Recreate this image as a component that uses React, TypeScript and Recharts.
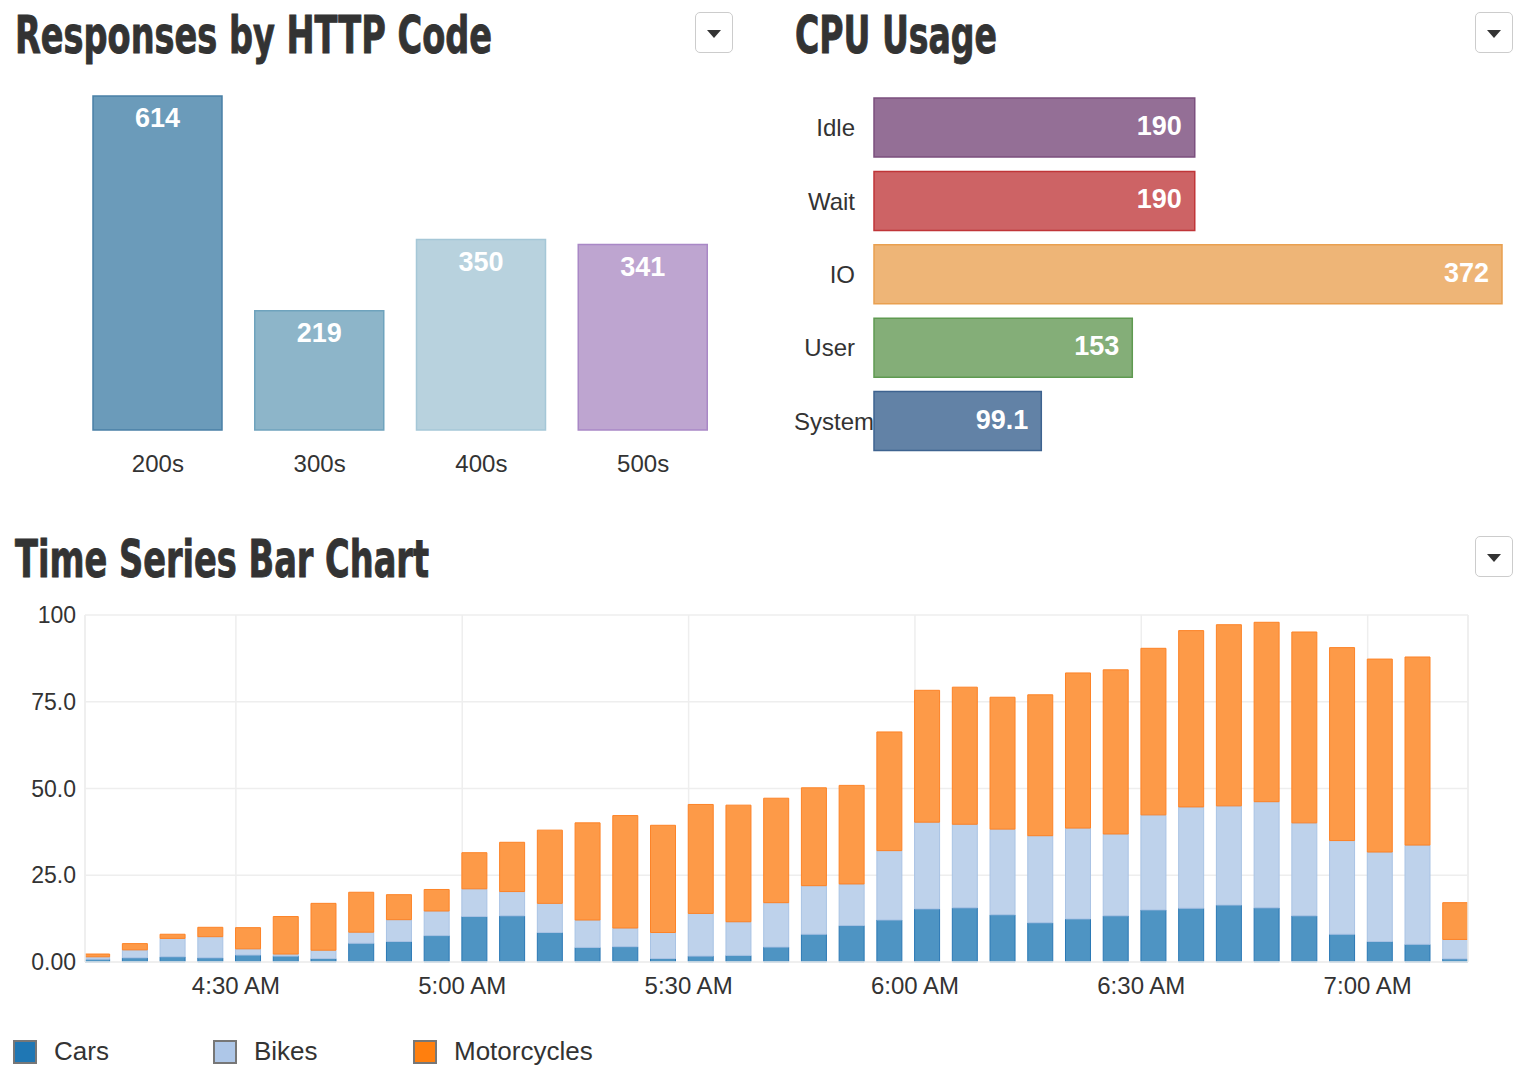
import {
  Bar,
  BarChart,
  CartesianGrid,
  Cell,
  LabelList,
  Rectangle,
  ReferenceLine,
  XAxis,
  YAxis,
} from 'recharts';

// Responses by HTTP Code
const codes = ['200s', '300s', '400s', '500s'];
const responses = [614, 219, 350, 341];
const codeFills = ['#6b9bba', '#8db5c9', '#b8d2de', '#bea5d0'];
const codeStrokes = ['#4a80a6', '#6fa3bd', '#a5c7d7', '#a988c6'];

// CPU Usage
const cpuStates = ['Idle', 'Wait', 'IO', 'User', 'System'];
const cpuValues = [190, 190, 372, 153, 99.1];
const cpuFills = ['#946f96', '#cd6365', '#eeb577', '#84ae78', '#6282a6'];
const cpuStrokes = ['#7b4f7e', '#c03538', '#e9a050', '#5f9a51', '#3e6390'];

// Time Series Bar Chart
const times = [
  '4:10', '4:15', '4:20', '4:25', '4:30', '4:35', '4:40', '4:45', '4:50', '4:55',
  '5:00', '5:05', '5:10', '5:15', '5:20', '5:25', '5:30', '5:35', '5:40', '5:45',
  '5:50', '5:55', '6:00', '6:05', '6:10', '6:15', '6:20', '6:25', '6:30', '6:35',
  '6:40', '6:45', '6:50', '6:55', '7:00', '7:05', '7:10',
];
const cars = [
  0.8, 1.2, 1.5, 1.2, 2.0, 1.7, 1.0, 5.4, 5.9, 7.6, 13.1, 13.3, 8.5, 4.2, 4.4, 1.0, 1.7, 1.9, 4.3,
  8.0, 10.5, 12.1, 15.3, 15.6, 13.6, 11.3, 12.4, 13.3, 15.0, 15.5, 16.4, 15.6, 13.3, 8.0, 5.9, 5.1, 0.9,
];
const bikes = [
  0.7, 2.3, 5.3, 6.1, 1.8, 0.6, 2.4, 3.2, 6.3, 7.1, 8.0, 7.0, 8.4, 7.9, 5.4, 7.5, 12.3, 9.7, 12.8,
  14.0, 12.0, 20.0, 25.0, 24.1, 24.7, 25.1, 26.2, 23.6, 27.4, 29.2, 28.6, 30.6, 26.8, 27.0, 25.8, 28.6, 5.6,
];
const motorcycles = [
  0.8, 1.8, 1.2, 2.7, 6.1, 10.8, 13.5, 11.5, 7.2, 6.2, 10.4, 14.2, 21.1, 28.0, 32.4, 30.9, 31.4, 33.6,
  30.1, 28.2, 28.4, 34.2, 38.0, 39.5, 38.0, 40.6, 44.7, 47.3, 48.0, 50.8, 52.2, 51.7, 55.0, 55.6, 55.6,
  54.2, 10.6,
];
const timeTicks = ['4:30', '5:00', '5:30', '6:00', '6:30', '7:00'];
const yTicks = [0, 25, 50, 75, 100];

const toMinutes = (t: string) => {
  const [h, m] = t.split(':').map(Number);
  return h * 60 + m;
};
const fmtTime = (v: number) => `${Math.floor(v / 60)}:${String(v % 60).padStart(2, '0')} AM`;

const T_MIN = toMinutes(times[0]);
const T_MAX = T_MIN + 183.3;

const httpData = codes.map((code, i) => ({ code, value: responses[i] }));
const cpuData = cpuStates.map((name, i) => ({ name, value: cpuValues[i] }));
const seriesData = times.map((t, i) => ({
  t: toMinutes(t),
  cars: cars[i],
  bikes: bikes[i],
  motorcycles: motorcycles[i],
}));

const legendItems = [
  { name: 'Cars', color: '#1f77b4' },
  { name: 'Bikes', color: '#aec7e8' },
  { name: 'Motorcycles', color: '#ff7f0e' },
];

const FONT = '"Liberation Sans", Arial, Helvetica, sans-serif';
const TEXT = '#333';
const GRID = '#eeeeee';

// time bars start at their timestamp, like a d3 time-scale bar
const ShiftedBar = (props: any) => <Rectangle {...props} x={props.x + props.width / 2} />;

const Title = ({ x, y, text, width }: { x: number; y: number; text: string; width: number }) => (
  <svg style={{ position: 'absolute', left: 0, top: y - 50, overflow: 'visible' }} width={1} height={70}>
    <text
      x={x}
      y={50}
      textLength={width}
      lengthAdjust="spacingAndGlyphs"
      fontFamily='"Liberation Sans Narrow", "DejaVu Sans Condensed", sans-serif'
      fontWeight="bold"
      fontSize={52}
      fill={TEXT}
      stroke={TEXT}
      strokeWidth={0.9}
    >
      {text}
    </text>
  </svg>
);

const MenuButton = ({ left, top }: { left: number; top: number }) => (
  <div
    style={{
      position: 'absolute',
      left,
      top,
      width: 36,
      height: 39,
      border: '1px solid #cccccc',
      borderRadius: 5,
      background: '#fff',
    }}
  >
    <div
      style={{
        position: 'absolute',
        left: 11,
        top: 17,
        width: 0,
        height: 0,
        borderLeft: '7px solid transparent',
        borderRight: '7px solid transparent',
        borderTop: '8px solid #333',
      }}
    />
  </div>
);

const CpuTick = ({ x, y, payload }: any) => {
  const label = String(payload.value);
  const est = label.length * 24 * 0.56;
  const leftBound = x - 61;
  const fits = x - est >= leftBound;
  return (
    <text
      x={fits ? x : leftBound}
      y={y}
      dy="0.355em"
      textAnchor={fits ? 'end' : 'start'}
      fill={TEXT}
      fontSize={24}
      fontFamily={FONT}
    >
      {label}
    </text>
  );
};

export default function App() {
  return (
    <div
      style={{
        position: 'absolute',
        left: 0,
        top: 0,
        width: 1526,
        height: 1082,
        overflow: 'hidden',
        background: '#fff',
        fontFamily: FONT,
        color: TEXT,
      }}
    >
      <Title x={15} y={53} text="Responses by HTTP Code" width={477} />
      <Title x={795} y={53} text="CPU Usage" width={202} />
      <Title x={15} y={577} text="Time Series Bar Chart" width={414} />
      <MenuButton left={695} top={12} />
      <MenuButton left={1475} top={12} />
      <MenuButton left={1475} top={536} />

      <div style={{ position: 'absolute', left: 0, top: 0 }}>
        <BarChart width={760} height={490} data={httpData} margin={{ top: 96, right: 36, bottom: 30, left: 77 }}>
          <XAxis
            dataKey="code"
            height={30}
            axisLine={false}
            tickLine={false}
            tickSize={6}
            tickMargin={19}
            tick={{ fill: TEXT, fontSize: 24, fontFamily: FONT }}
          />
          <YAxis hide domain={[0, 614]} />
          <Bar dataKey="value" barSize={129} strokeWidth={1.5} isAnimationActive={false}>
            {httpData.map((d, i) => (
              <Cell key={d.code} fill={codeFills[i]} stroke={codeStrokes[i]} />
            ))}
            <LabelList
              dataKey="value"
              position="insideTop"
              offset={12}
              fill="#fff"
              fontSize={27}
              fontWeight="bold"
              fontFamily={FONT}
            />
          </Bar>
        </BarChart>
      </div>

      <div style={{ position: 'absolute', left: 780, top: 0 }}>
        <BarChart
          width={746}
          height={480}
          data={cpuData}
          layout="vertical"
          margin={{ top: 91, right: 24, bottom: 22, left: 0 }}
        >
          <XAxis type="number" hide domain={[0, 372]} />
          <YAxis
            type="category"
            dataKey="name"
            width={94}
            axisLine={false}
            tickLine={false}
            tickSize={0}
            tickMargin={19}
            tick={<CpuTick />}
          />
          <Bar dataKey="value" barSize={59} strokeWidth={1.5} isAnimationActive={false}>
            {cpuData.map((d, i) => (
              <Cell key={d.name} fill={cpuFills[i]} stroke={cpuStrokes[i]} />
            ))}
            <LabelList
              dataKey="value"
              position="insideRight"
              offset={13}
              fill="#fff"
              fontSize={27}
              fontWeight="bold"
              fontFamily={FONT}
              dy={-2}
            />
          </Bar>
        </BarChart>
      </div>

      <div style={{ position: 'absolute', left: 0, top: 600 }}>
        <BarChart width={1526} height={420} data={seriesData} margin={{ top: 15, right: 58, bottom: 18, left: 0 }}>
          <CartesianGrid stroke={GRID} strokeWidth={1.5} />
          <XAxis
            dataKey="t"
            type="number"
            domain={[T_MIN, T_MAX]}
            allowDataOverflow
            ticks={timeTicks.map(toMinutes)}
            tickFormatter={fmtTime}
            height={40}
            axisLine={{ stroke: GRID, strokeWidth: 1.5 }}
            tickLine={false}
            tickSize={0}
            tickMargin={15}
            tick={{ fill: TEXT, fontSize: 24, fontFamily: FONT }}
          />
          <YAxis
            domain={[0, 100]}
            ticks={yTicks}
            tickFormatter={(v: number) => v.toPrecision(3)}
            width={85}
            axisLine={{ stroke: GRID, strokeWidth: 1.5 }}
            tickLine={false}
            tickSize={0}
            tickMargin={9}
            tick={{ fill: TEXT, fontSize: 23, fontFamily: FONT }}
          />
          <ReferenceLine x={T_MAX} stroke={GRID} strokeWidth={1.5} ifOverflow="extendDomain" />
          <Bar
            dataKey="cars"
            stackId="a"
            barSize={25}
            fill="#4e94c3"
            stroke="#2a78b5"
            strokeWidth={1}
            shape={ShiftedBar}
            isAnimationActive={false}
          />
          <Bar
            dataKey="bikes"
            stackId="a"
            barSize={25}
            fill="#bed2eb"
            stroke="#a9c3e4"
            strokeWidth={1}
            shape={ShiftedBar}
            isAnimationActive={false}
          />
          <Bar
            dataKey="motorcycles"
            stackId="a"
            barSize={25}
            fill="#fd9a48"
            stroke="#fd8327"
            strokeWidth={1}
            shape={ShiftedBar}
            isAnimationActive={false}
          />
        </BarChart>
      </div>

      {legendItems.map((item, i) => (
        <div key={item.name} style={{ position: 'absolute', left: 13 + i * 200, top: 1038, height: 26 }}>
          <div
            style={{
              position: 'absolute',
              left: 0,
              top: 2,
              width: 20,
              height: 20,
              background: item.color,
              border: '2px solid #777',
            }}
          />
          <div style={{ position: 'absolute', left: 41, top: -2, fontSize: 26, whiteSpace: 'nowrap', color: '#333' }}>
            {item.name}
          </div>
        </div>
      ))}
    </div>
  );
}
